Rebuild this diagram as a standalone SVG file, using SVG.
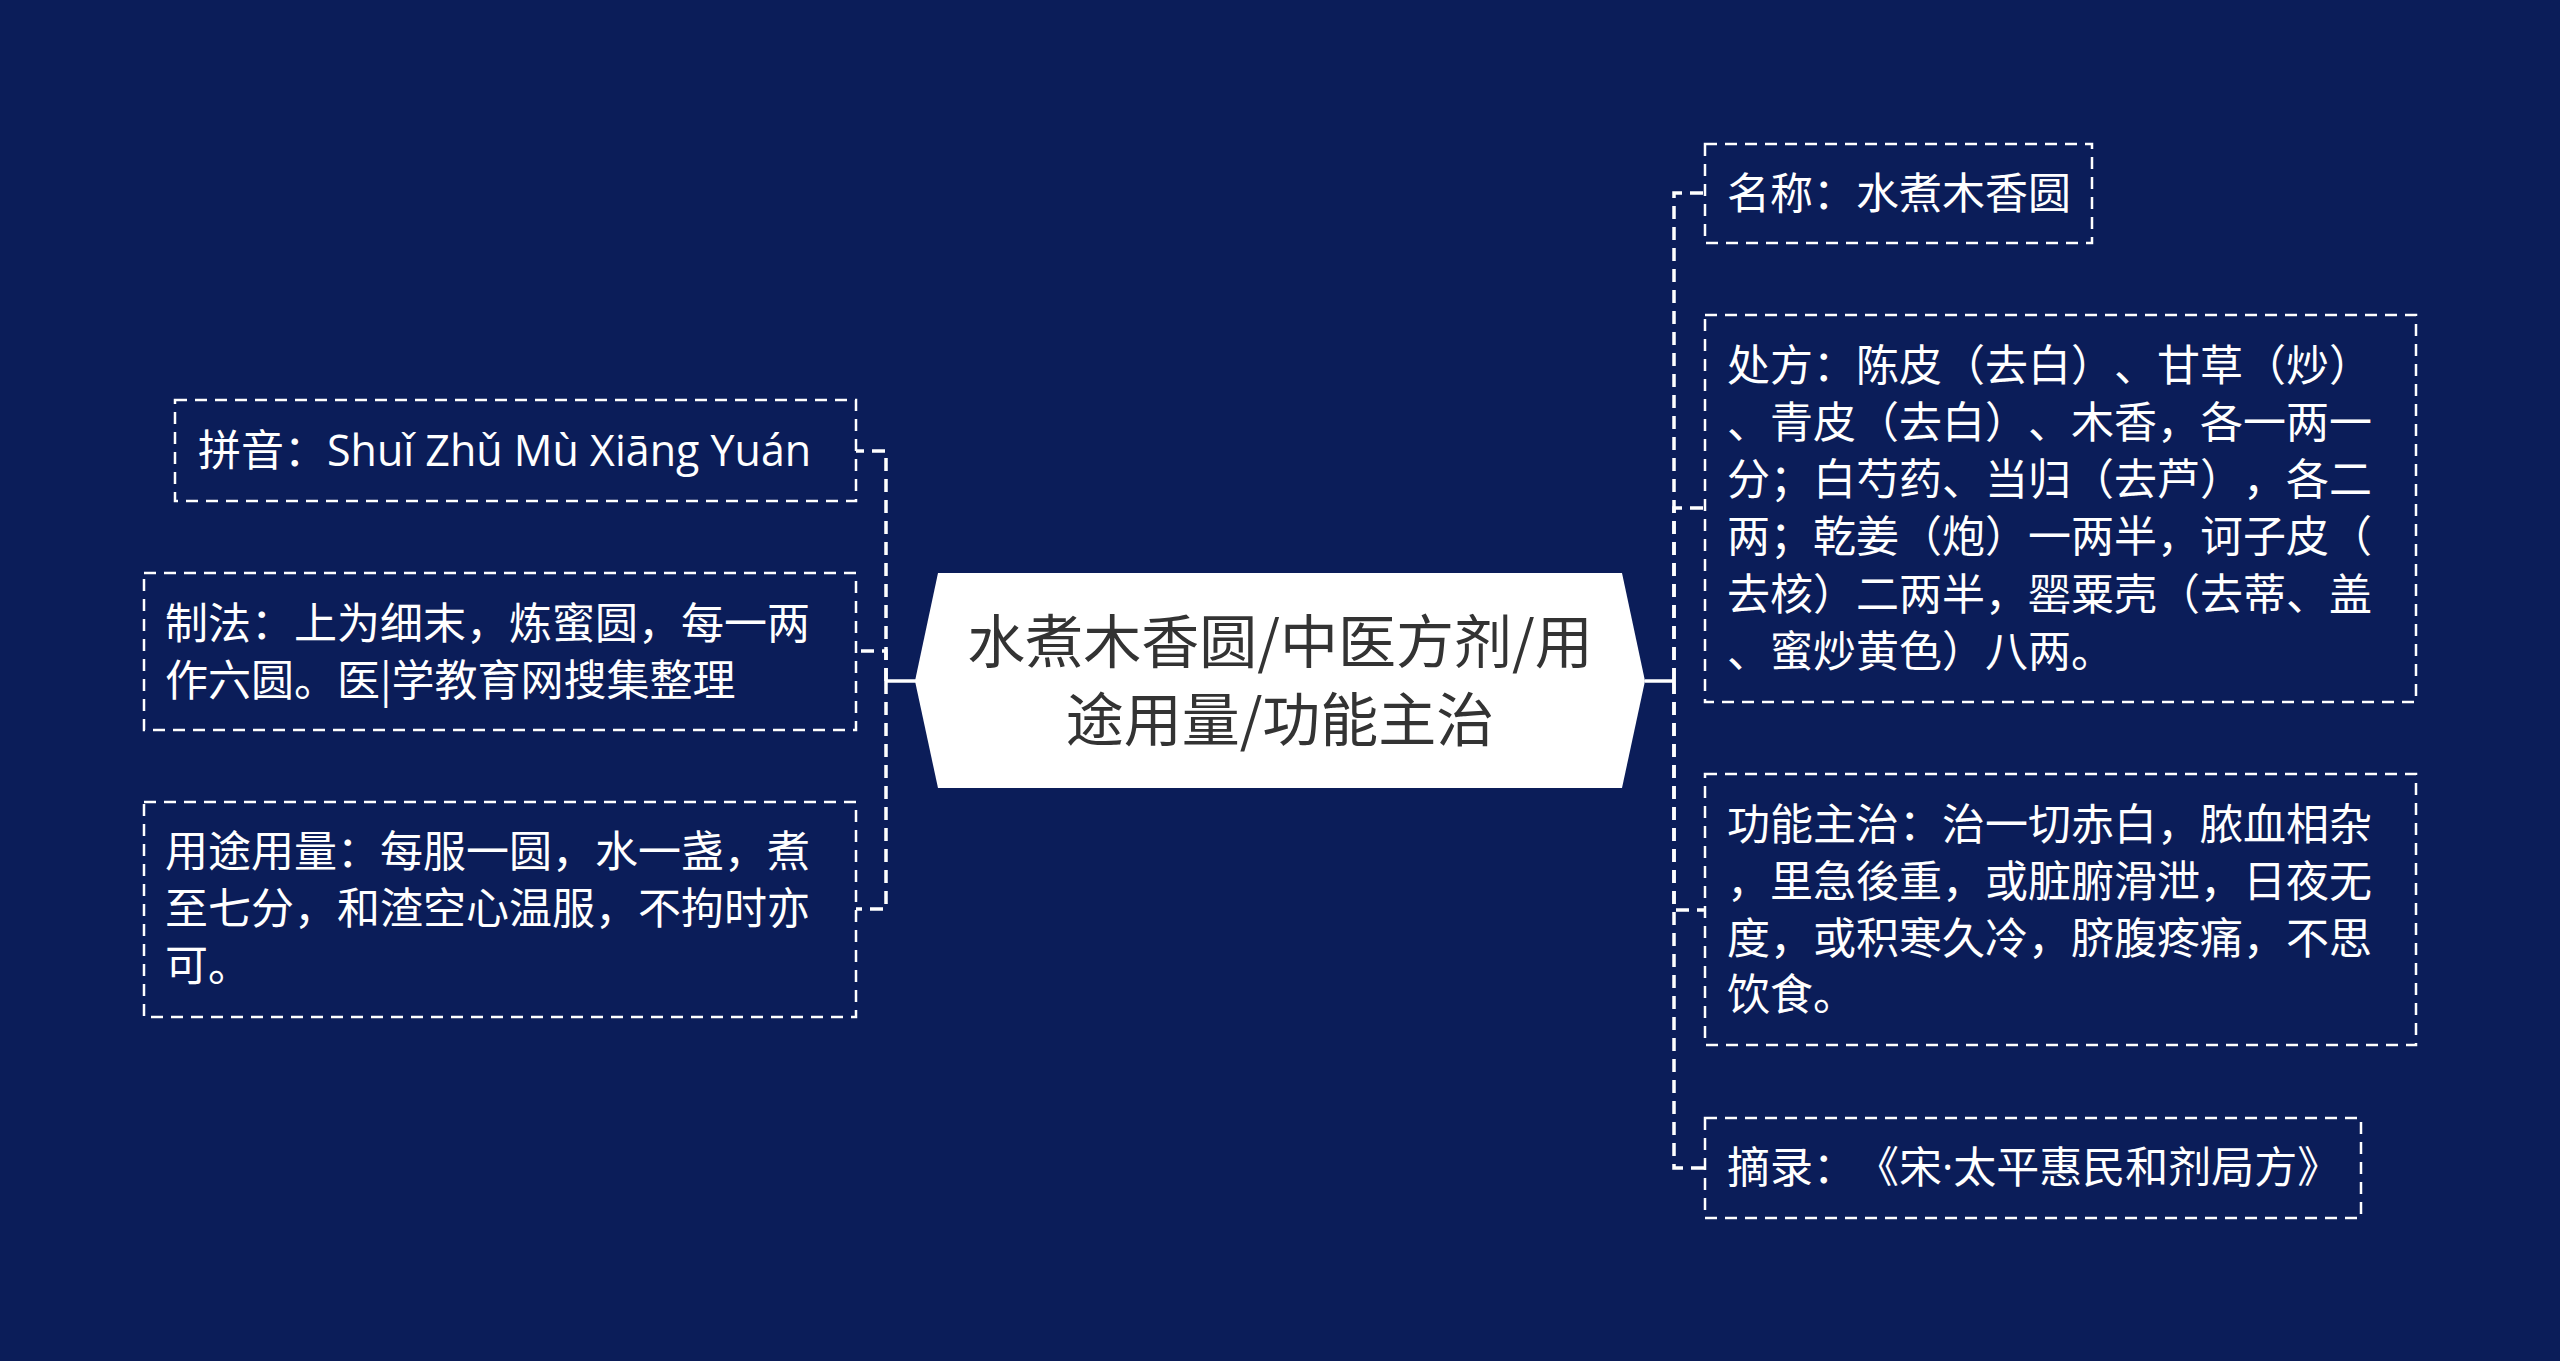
<svg xmlns="http://www.w3.org/2000/svg" width="2560" height="1361" viewBox="0 0 2560 1361">
<style>
.bg{fill:#0b1d59}
.box{fill:none;stroke:#ffffff;stroke-width:2.5;stroke-dasharray:12 8}
.t{font-family:"Noto Sans CJK SC","Noto Sans",sans-serif;font-size:43px;fill:#ffffff;text-spacing-trim:space-all}
.ct{font-family:"Noto Sans CJK SC","Noto Sans",sans-serif;font-size:58px;fill:#333333;text-anchor:middle}
.lat{font-family:"Open Sans","Noto Sans",sans-serif}
.dash{fill:none;stroke:#ffffff;stroke-width:3.5;stroke-dasharray:13 8}
.solid{fill:none;stroke:#ffffff;stroke-width:3.5}
</style>
<rect class="bg" x="0" y="0" width="2560" height="1361"/>
<g id="connectors">
<path class="solid" d="M916 681 H886"/>
<path class="solid" d="M1645 681 H1674"/>
<path class="dash" d="M886 681 V451 H856"/>
<path class="dash" d="M886 681 V651 H856"/>
<path class="dash" d="M886 681 V909 H856"/>
<path class="dash" d="M1674 681 V193 H1705"/>
<path class="dash" d="M1674 681 V508 H1705"/>
<path class="dash" d="M1674 681 V910 H1705"/>
<path class="dash" d="M1674 681 V1168 H1705"/>
</g>
<g id="center">
<polygon points="938,573 1622,573 1645,681 1622,788 938,788 915,681" fill="#ffffff"/>
<text class="ct" x="1280" y="663">水煮木香圆/中医方剂/用</text>
<text class="ct" x="1280" y="741">途用量/功能主治</text>
</g>
<g id="pinyin">
<rect class="box" x="175" y="400" width="681" height="101"/>
<text class="t" x="198" y="466">拼音：<tspan class="lat">Shuǐ Zhǔ Mù Xiāng Yuán</tspan></text>
</g>
<g id="zhifa">
<rect class="box" x="144" y="573" width="712" height="157"/>
<text class="t" x="165" y="639">制法：上为细末，炼蜜圆，每一两</text>
<text class="t" x="165" y="696">作六圆。医|学教育网搜集整理</text>
</g>
<g id="yongtu">
<rect class="box" x="144" y="802" width="712" height="215"/>
<text class="t" x="165" y="867">用途用量：每服一圆，水一盏，煮</text>
<text class="t" x="165" y="924">至七分，和渣空心温服，不拘时亦</text>
<text class="t" x="165" y="981">可。</text>
</g>
<g id="mingcheng">
<rect class="box" x="1705" y="144" width="387" height="99"/>
<text class="t" x="1727" y="209">名称：水煮木香圆</text>
</g>
<g id="chufang">
<rect class="box" x="1705" y="315" width="711" height="387"/>
<text class="t" x="1727" y="381">处方：陈皮（去白）、甘草（炒）</text>
<text class="t" x="1727" y="438">、青皮（去白）、木香，各一两一</text>
<text class="t" x="1727" y="495">分；白芍药、当归（去芦），各二</text>
<text class="t" x="1727" y="552">两；乾姜（炮）一两半，诃子皮（</text>
<text class="t" x="1727" y="610">去核）二两半，罂粟壳（去蒂、盖</text>
<text class="t" x="1727" y="667">、蜜炒黄色）八两。</text>
</g>
<g id="gongneng">
<rect class="box" x="1705" y="774" width="711" height="271"/>
<text class="t" x="1727" y="840">功能主治：治一切赤白，脓血相杂</text>
<text class="t" x="1727" y="897">，里急後重，或脏腑滑泄，日夜无</text>
<text class="t" x="1727" y="954">度，或积寒久冷，脐腹疼痛，不思</text>
<text class="t" x="1727" y="1010">饮食。</text>
</g>
<g id="zhailu">
<rect class="box" x="1705" y="1118" width="656" height="100"/>
<text class="t" x="1727" y="1183">摘录：《宋<tspan class="lat">·</tspan>太平惠民和剂局方》</text>
</g>
</svg>
